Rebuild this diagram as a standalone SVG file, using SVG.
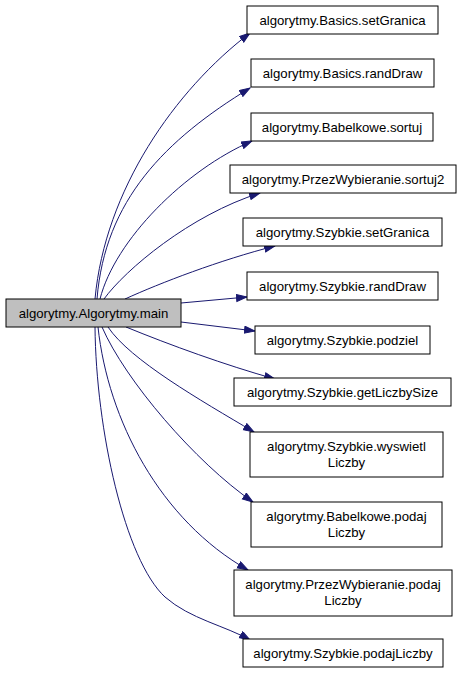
<svg xmlns="http://www.w3.org/2000/svg" width="461" height="675" viewBox="0 0 461 675">
<defs>
<style>
.node rect{fill:#ffffff;stroke:#000000;stroke-width:1}
#main rect{fill:#bfbfbf}
text{font-family:"Liberation Sans",Arial,Helvetica,sans-serif;font-size:13.2px;fill:#000000;text-anchor:middle}
.edge{fill:none;stroke:#191970;stroke-width:1;marker-end:url(#arrow)}
</style>
<marker id="arrow" markerUnits="userSpaceOnUse" markerWidth="12" markerHeight="9" refX="11" refY="4" orient="auto">
<path d="M0.5,0.5 L11,4 L0.5,7.5 z" fill="#191970" stroke="#191970" stroke-width="1"/>
</marker>
</defs>
<rect width="461" height="675" fill="#ffffff"/>
<g id="edges">
<path class="edge" d="M95,299 C105,190 175,90 250,33"/>
<path class="edge" d="M97,299 C105,200 165,140 250,88"/>
<path class="edge" d="M100,299 C115,240 185,170 252,141"/>
<path class="edge" d="M104,299 C125,270 190,215 260,193"/>
<path class="edge" d="M125,299 C160,283 220,260 275,246"/>
<path class="edge" d="M181,303 L247,297"/>
<path class="edge" d="M181,322 L255,331"/>
<path class="edge" d="M126,327 C170,345 225,365 275,379"/>
<path class="edge" d="M108,327 C130,360 200,400 254,432"/>
<path class="edge" d="M102,327 C125,380 195,462 253,502"/>
<path class="edge" d="M98,327 C108,420 160,520 248,570"/>
<path class="edge" d="M95,327 C96,430 125,560 165,597 C190,619 226,626 250,640"/>
</g>
<g id="main" class="node"><rect x="6" y="299" width="175" height="28"/><text x="93.5" y="317.5">algorytmy.Algorytmy.main</text></g>
<g id="n1" class="node"><rect x="247" y="6" width="191" height="28"/><text x="342.5" y="24.5">algorytmy.Basics.setGranica</text></g>
<g id="n2" class="node"><rect x="251" y="59" width="183" height="28"/><text x="342.5" y="77.5">algorytmy.Basics.randDraw</text></g>
<g id="n3" class="node"><rect x="251" y="113" width="182" height="28"/><text x="342" y="131.5">algorytmy.Babelkowe.sortuj</text></g>
<g id="n4" class="node"><rect x="230" y="165" width="226" height="28"/><text x="343" y="183.5">algorytmy.PrzezWybieranie.sortuj2</text></g>
<g id="n5" class="node"><rect x="243" y="218" width="199" height="28"/><text x="342.5" y="236.5">algorytmy.Szybkie.setGranica</text></g>
<g id="n6" class="node"><rect x="247" y="272" width="191" height="28"/><text x="342.5" y="290.5">algorytmy.Szybkie.randDraw</text></g>
<g id="n7" class="node"><rect x="255" y="326" width="175" height="28"/><text x="342.5" y="344.5">algorytmy.Szybkie.podziel</text></g>
<g id="n8" class="node"><rect x="234" y="378" width="217" height="28"/><text x="342.5" y="396.5">algorytmy.Szybkie.getLiczbySize</text></g>
<g id="n9" class="node"><rect x="250" y="432" width="193" height="45"/><text x="346.5" y="451">algorytmy.Szybkie.wyswietl</text><text x="346.5" y="466.5">Liczby</text></g>
<g id="n10" class="node"><rect x="251" y="502" width="191" height="45"/><text x="346.5" y="521">algorytmy.Babelkowe.podaj</text><text x="346.5" y="536.5">Liczby</text></g>
<g id="n11" class="node"><rect x="234" y="570" width="218" height="46"/><text x="343" y="589">algorytmy.PrzezWybieranie.podaj</text><text x="343" y="604.5">Liczby</text></g>
<g id="n12" class="node"><rect x="243" y="639" width="200" height="28"/><text x="343" y="657.5">algorytmy.Szybkie.podajLiczby</text></g>
</svg>
